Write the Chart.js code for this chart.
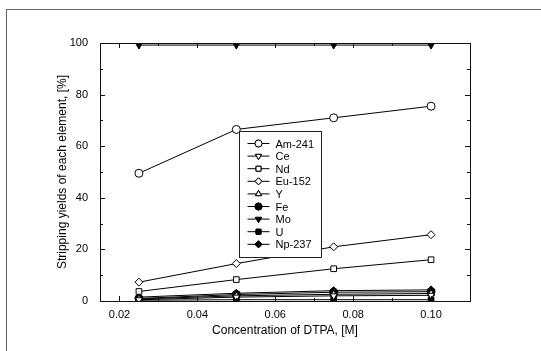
<!DOCTYPE html>
<html>
<head>
<meta charset="utf-8">
<script src="https://cdn.jsdelivr.net/npm/chart.js@4/dist/chart.umd.min.js"></script>
<style>
  html, body { margin: 0; padding: 0; background: #fff; }
  #wrap { position: relative; width: 541px; height: 351px; overflow: hidden; }
  #frame { position: absolute; left: 6px; top: 9px; right: -2px; bottom: -2px;
           border-top: 1px solid #666; border-left: 1px solid #666; }
  canvas { position: absolute; left: 0; top: 0; }
</style>
</head>
<body>
<div id="wrap">
  <div id="frame"></div>
  <canvas id="stripChart" width="541" height="351"></canvas>
</div>
<script>
// concentrations of DTPA [M]
const dtpa = [0.025, 0.05, 0.075, 0.10];

// stripping yields [%]
const am241 = [49.5, 66.5, 71.0, 75.5];
const ce    = [0.5, 1.5, 2.0, 2.2];
const nd    = [3.7, 8.3, 12.5, 16.0];
const eu152 = [7.3, 14.5, 21.0, 25.7];
const yt    = [0.8, 2.0, 2.6, 2.9];
const fe    = [1.0, 2.5, 3.4, 3.6];
const mo    = [99.2, 99.2, 99.2, 99.2];
const u     = [0.3, 0.5, 0.5, 0.5];
const np237 = [1.5, 3.0, 4.0, 4.3];

const xTicks = [0.02, 0.04, 0.06, 0.08, 0.10];
const yTicks = [0, 20, 40, 60, 80, 100];
const yTitle = 'Stripping yields of each element, [%]';

const series = [
  { label: 'Am-241', data: am241, style: 'circle', fill: false, rot: 0 },
  { label: 'Ce', data: ce, style: 'triangle', fill: false, rot: 180 },
  { label: 'Nd', data: nd, style: 'rect', fill: false, rot: 0 },
  { label: 'Eu-152', data: eu152, style: 'rectRot', fill: false, rot: 0 },
  { label: 'Y', data: yt, style: 'triangle', fill: false, rot: 0 },
  { label: 'Fe', data: fe, style: 'circle', fill: true, rot: 0 },
  { label: 'Mo', data: mo, style: 'triangle', fill: true, rot: 180 },
  { label: 'U', data: u, style: 'rect', fill: true, rot: 0 },
  { label: 'Np-237', data: np237, style: 'rectRot', fill: true, rot: 0 }
];

const FONT = 'Arial, "Liberation Sans", sans-serif';

// frame round the plot, ticks pointing inward, y title
const frameTicks = {
  id: 'frameTicks',
  afterDraw(chart) {
    const { ctx, chartArea: a, scales } = chart;
    ctx.save();
    ctx.strokeStyle = '#111';
    ctx.lineWidth = 1;
    ctx.strokeRect(a.left + 0.5, a.top + 0.5, a.right - a.left, a.bottom - a.top);
    ctx.beginPath();
    for (let v = 0; v <= 100; v += 10) {
      const y = Math.round(scales.y.getPixelForValue(v)) + 0.5;
      const len = v % 20 === 0 ? 5 : 3;
      ctx.moveTo(a.left, y); ctx.lineTo(a.left + len, y);
      ctx.moveTo(a.right, y); ctx.lineTo(a.right - len, y);
    }
    for (let i = 0; i <= 9; i++) {
      const v = 0.02 + i * 0.01;
      const x = Math.round(scales.x.getPixelForValue(v)) + 0.5;
      const len = i % 2 === 0 ? 5 : 3;
      ctx.moveTo(x, a.bottom); ctx.lineTo(x, a.bottom - len);
      ctx.moveTo(x, a.top); ctx.lineTo(x, a.top + len);
    }
    ctx.stroke();

    ctx.translate(a.left - 37, (a.top + a.bottom) / 2);
    ctx.rotate(-Math.PI / 2);
    ctx.fillStyle = '#000';
    ctx.font = '12px ' + FONT;
    ctx.textAlign = 'center';
    ctx.textBaseline = 'middle';
    ctx.fillText(yTitle, 0, 0);
    ctx.restore();
  }
};

// legend box drawn inside the plot
const boxLegend = {
  id: 'boxLegend',
  afterDraw(chart) {
    const { ctx, scales } = chart;
    const left = Math.round(scales.x.getPixelForValue(0.0508)) + 0.5;
    const top = Math.round(scales.y.getPixelForValue(66)) + 0.5;
    const w = 82, h = 126, row = 12.6;
    ctx.save();
    ctx.fillStyle = '#fff';
    ctx.fillRect(left, top, w, h);
    ctx.strokeStyle = '#222';
    ctx.lineWidth = 1;
    ctx.strokeRect(left, top, w, h);
    ctx.font = '11px ' + FONT;
    ctx.textBaseline = 'middle';
    series.forEach((s, i) => {
      const y = top + 12 + i * row;
      ctx.strokeStyle = '#000';
      ctx.beginPath();
      ctx.moveTo(left + 8, y); ctx.lineTo(left + 30, y);
      ctx.stroke();
      ctx.fillStyle = s.fill ? '#000' : '#fff';
      Chart.helpers.drawPoint(ctx, { pointStyle: s.style, radius: 3.5, rotation: s.rot, borderWidth: 1 }, left + 19, y);
      ctx.fill();
      ctx.stroke();
      ctx.fillStyle = '#000';
      ctx.fillText(s.label, left + 36, y + 1);
    });
    ctx.restore();
  }
};

new Chart(document.getElementById('stripChart'), {
  type: 'line',
  data: {
    datasets: series.map(s => ({
      label: s.label,
      data: dtpa.map((x, i) => ({ x: x, y: s.data[i] })),
      borderColor: '#000',
      borderWidth: 1,
      pointStyle: s.style,
      rotation: s.rot,
      pointRadius: 4,
      pointBorderWidth: 1,
      pointBorderColor: '#000',
      pointBackgroundColor: s.fill ? '#000' : '#fff',
      tension: 0
    }))
  },
  options: {
    responsive: false,
    animation: false,
    layout: { padding: { left: 50, top: 43, right: 71, bottom: 13 } },
    plugins: { legend: { display: false }, tooltip: { enabled: false } },
    scales: {
      x: {
        type: 'linear',
        min: 0.015, max: 0.11,
        afterBuildTicks: scale => { scale.ticks = xTicks.map(v => ({ value: v })); },
        afterFit: scale => { scale.height = 37; },
        grid: { display: false, drawTicks: false },
        border: { display: false },
        ticks: { color: '#000', font: { family: FONT, size: 11 }, padding: 7, callback: v => v.toFixed(2) },
        title: { display: true, text: 'Concentration of DTPA, [M]', color: '#000', font: { family: FONT, size: 12 }, padding: 0 }
      },
      y: {
        min: 0, max: 100,
        afterBuildTicks: scale => { scale.ticks = yTicks.map(v => ({ value: v })); },
        afterFit: scale => { scale.width = 50; },
        grid: { display: false, drawTicks: false },
        border: { display: false },
        ticks: { color: '#000', font: { family: FONT, size: 11 }, padding: 12 }
      }
    }
  },
  plugins: [frameTicks, boxLegend]
});
</script>
</body>
</html>
